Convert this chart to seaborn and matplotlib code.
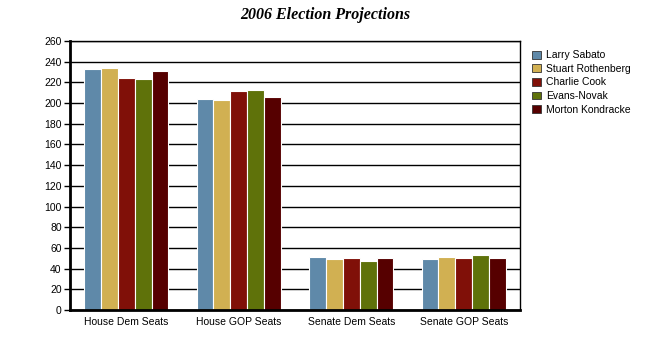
import matplotlib
matplotlib.use("Agg")
import matplotlib.pyplot as plt
import seaborn as sns
import pandas as pd

categories = ["House Dem Seats", "House GOP Seats", "Senate Dem Seats", "Senate GOP Seats"]
forecasters = ["Larry Sabato", "Stuart Rothenberg", "Charlie Cook", "Evans-Novak", "Morton Kondracke"]
larry_sabato = [233, 204, 51, 49]
stuart_rothenberg = [234, 203, 49, 51]
charlie_cook = [224, 212, 50, 50]
evans_novak = [223, 213, 47, 53]
morton_kondracke = [231, 206, 50, 50]
colors = ["#5f89a9", "#d1b052", "#801008", "#5f720a", "#560000"]

series = [larry_sabato, stuart_rothenberg, charlie_cook, evans_novak, morton_kondracke]
rows = []
for name, vals in zip(forecasters, series):
    for cat, v in zip(categories, vals):
        rows.append({"category": cat, "forecaster": name, "seats": v})
df = pd.DataFrame(rows)

sns.set_style("white")
plt.rcParams["font.family"] = ["Liberation Sans", "DejaVu Sans"]
plt.rcParams["text.color"] = "black"
plt.rcParams["xtick.color"] = "black"
plt.rcParams["ytick.color"] = "black"
plt.rcParams["axes.labelcolor"] = "black"

fig = plt.figure(figsize=(6.5, 3.5), dpi=100)
ax = fig.add_axes([70/650, 1 - 310/350, 450/650, 269/350])
sns.barplot(data=df, x="category", y="seats", hue="forecaster", hue_order=forecasters,
            order=categories, palette=colors, width=0.75, ax=ax,
            edgecolor="white", linewidth=0.8, saturation=1, errorbar=None)

ax.set_ylim(0, 260)
ax.set_xlim(-0.5, 3.5)
ax.set_yticks(range(0, 261, 20))
ax.yaxis.grid(True, color="black", linewidth=1)
ax.set_axisbelow(True)
ax.set_xlabel("")
ax.set_ylabel("")
for s in ["left", "bottom"]:
    ax.spines[s].set_linewidth(2)
    ax.spines[s].set_color("black")
for s in ["top", "right"]:
    ax.spines[s].set_linewidth(1)
    ax.spines[s].set_color("black")
ax.tick_params(axis="y", length=4, width=1, labelsize=7.5, pad=2, left=True, colors="black")
ax.tick_params(axis="x", length=0, labelsize=7.5, pad=5, colors="black")

leg = ax.legend(loc="upper left", bbox_to_anchor=(528/450 - 70/450, 1 - 5/269),
                frameon=False, fontsize=7.5, handlelength=0.8, handleheight=0.8,
                handletextpad=0.5, labelspacing=0.35, borderaxespad=0)
for t in leg.get_texts():
    t.set_color("black")
for h in leg.legend_handles:
    h.set_edgecolor("#333333")
    h.set_linewidth(0.6)

fig.text(0.5, 1 - 15/350, "2006 Election Projections", ha="center", va="center",
         fontsize=11.5, fontweight="bold", fontstyle="italic", family="Liberation Serif",
         color="black")

fig.savefig("out.png", dpi=100)
